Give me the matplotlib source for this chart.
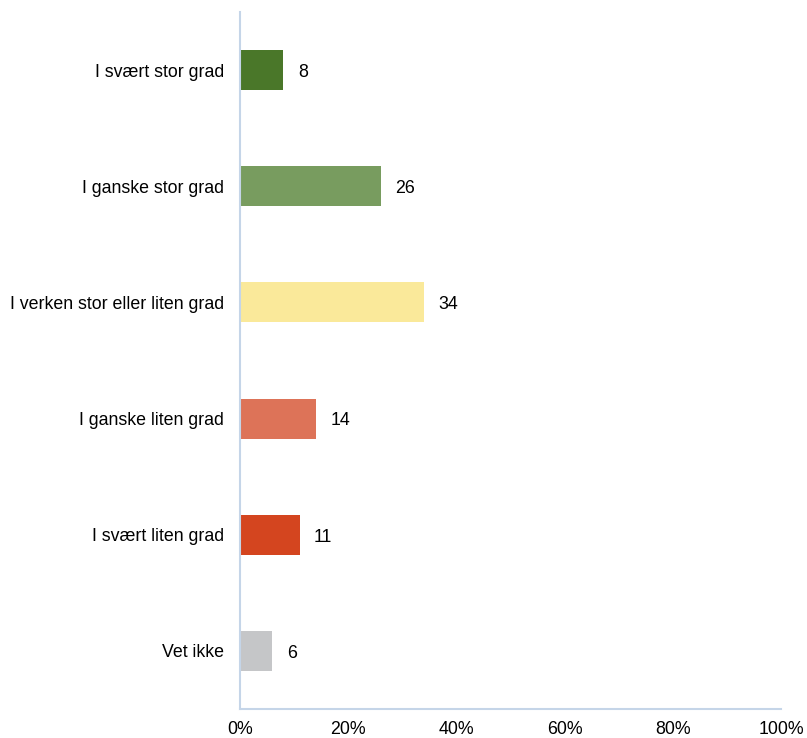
import matplotlib
matplotlib.use("Agg")
import matplotlib.pyplot as plt
from matplotlib.ticker import FuncFormatter

categories = ["I svært stor grad", "I ganske stor grad", "I verken stor eller liten grad",
              "I ganske liten grad", "I svært liten grad", "Vet ikke"]
values = [8, 26, 34, 14, 11, 6]
colors = ["#4a7729", "#789c5f", "#fae99a", "#dd7358", "#d4451f", "#c5c6c8"]
xticks = [0, 20, 40, 60, 80, 100]

plt.rcParams["font.family"] = ["Liberation Sans", "DejaVu Sans"]
FS = 12.8

fig = plt.figure(figsize=(8.07, 7.38), dpi=100)
ax = fig.add_axes([240/807, 29/738, 541/807, 697/738])

y = list(range(len(categories)))
ax.barh(y, values, height=0.345, color=colors)
for yi, v in zip(y, values):
    ax.text(v + 2.7, yi + 0.02, f"{v}", va="center", ha="left", fontsize=FS, color="black")

ax.set_xlim(0, 100)
ax.set_ylim(len(categories) - 0.5, -0.5)
ax.set_yticks(y)
ax.set_yticklabels(categories, fontsize=FS)
ax.set_xticks(xticks)
ax.xaxis.set_major_formatter(FuncFormatter(lambda v, p: f"{int(v)}%"))
ax.tick_params(axis="x", labelsize=FS, length=0, pad=9)
ax.tick_params(axis="y", length=0, pad=11.5)

for s in ["top", "right"]:
    ax.spines[s].set_visible(False)
for s in ["left", "bottom"]:
    ax.spines[s].set_color("#c5d5e8")
    ax.spines[s].set_linewidth(1.5)

fig.savefig("out.png", dpi=100)
